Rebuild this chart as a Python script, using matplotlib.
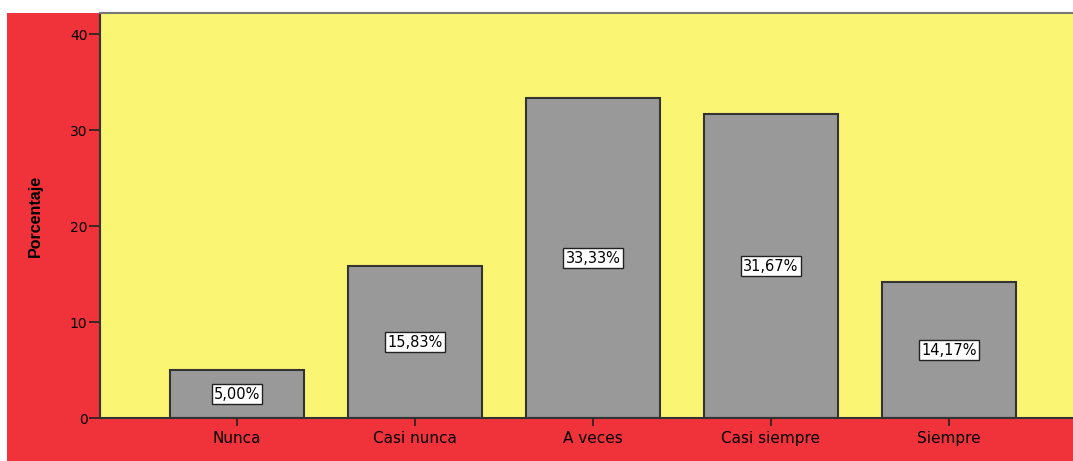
import matplotlib
matplotlib.use("Agg")
import matplotlib.pyplot as plt
from matplotlib.patches import Rectangle

categories = ["Nunca", "Casi nunca", "A veces", "Casi siempre", "Siempre"]
values = [5.00, 15.83, 33.33, 31.67, 14.17]
labels = ["5,00%", "15,83%", "33,33%", "31,67%", "14,17%"]
yticks = [0, 10, 20, 30, 40]

W, H = 1073, 461
fig = plt.figure(figsize=(W / 100, H / 100), dpi=100)
fig.patch.set_facecolor("white")

red = "#F0323A"
yellow = "#FAF572"
fig.patches.append(Rectangle((7 / W, 0), 1, (H - 13) / H, transform=fig.transFigure,
                             facecolor=red, edgecolor="none", zorder=-10))

left, right, top, bottom = 100, 1086, 13, 418
ax = fig.add_axes([left / W, (H - bottom) / H, (right - left) / W, (bottom - top) / H])
ax.set_facecolor(yellow)

x = list(range(len(categories)))
ax.bar(x, values, width=0.75, color="#999999", edgecolor="#333333", linewidth=1.5, zorder=2)
for xi, v, lab in zip(x, values, labels):
    ax.text(xi, v / 2, lab, ha="center", va="center", fontsize=10.5, family="DejaVu Sans",
            color="black", zorder=3,
            bbox=dict(boxstyle="square,pad=0.15", facecolor="white", edgecolor="#222222", linewidth=1))

ax.set_xlim(-0.77, 4.77)
ax.set_ylim(0, 42.2)
ax.set_yticks(yticks)
ax.set_yticklabels([str(t) for t in yticks], fontsize=10, family="DejaVu Sans")
ax.set_xticks(x)
ax.set_xticklabels(categories, fontsize=11, family="DejaVu Sans")
ax.tick_params(axis="y", direction="out", length=8, width=1.2, color="#222222", pad=1)
ax.tick_params(axis="x", direction="out", length=6, width=1.2, color="#222222", pad=3)

for s in ["left", "bottom"]:
    ax.spines[s].set_color("#333333")
    ax.spines[s].set_linewidth(1.5)
ax.spines["top"].set_color("#777777")
ax.spines["top"].set_linewidth(1.5)
ax.spines["right"].set_visible(False)

fig.text(35 / W, (H - 216) / H, "Porcentaje", rotation=90, ha="center", va="center",
         fontsize=11.5, fontweight="bold", family=["Liberation Sans Narrow", "Liberation Sans", "DejaVu Sans"])

fig.savefig("out.png", dpi=100)
